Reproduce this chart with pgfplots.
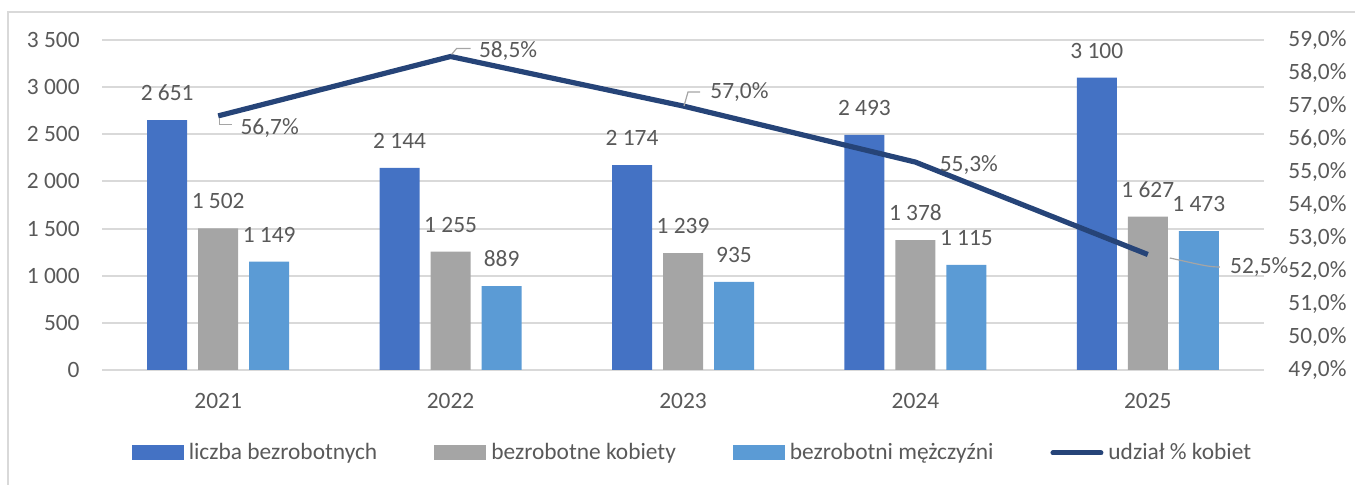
\documentclass[border=0pt]{standalone}
\usepackage{pgfplots}
\pgfplotsset{compat=1.18}
\usepackage{fontspec}
\setmainfont{Carlito}
\definecolor{c1}{HTML}{4472C4}
\definecolor{c2}{HTML}{A5A5A5}
\definecolor{c3}{HTML}{5B9BD5}
\definecolor{cl}{HTML}{264478}
\definecolor{txt}{HTML}{595959}
\definecolor{grd}{HTML}{D9D9D9}
\newcommand{\fs}{\fontsize{11.7}{14}\selectfont}
\begin{document}
\begin{tikzpicture}[font=\fs]
\useasboundingbox (0,0) rectangle (677.5pt,242.5pt);
\draw[grd, line width=1pt] (4pt,0) -- (4pt,236.5pt) -- (677.5pt,236.5pt);
\begin{axis}[
  at={(51pt,57.5pt)}, anchor=south west,
  scale only axis, width=581pt, height=165pt,
  ybar=5.5pt, bar width=20pt,
  xmin=-0.5, xmax=4.5, ymin=0, ymax=3500,
  xtick={0,1,2,3,4}, xticklabels={2021,2022,2023,2024,2025},
  ytick={0,500,...,3500},
  ymajorgrids, grid style={grd, line width=1pt},
  axis line style={draw=none},
  major tick length=0pt,
  tick label style={txt, font=\fs},
  /pgf/number format/assume math mode=true,
  /pgf/number format/1000 sep={\ },
  yticklabel style={inner sep=0pt, xshift=-11pt},
  xticklabel style={inner sep=0pt, yshift=-11.5pt},
  nodes near coords,
  nodes near coords style={txt, inner sep=0pt, anchor=south, yshift=9.5pt, font=\fs},
  clip=false,
  legend style={at={(0.5073,-0.2515)}, anchor=center, draw=none, fill=none,
    font=\fs, text=txt,
    /tikz/every even column/.append style={column sep=28.5pt},
    /tikz/every odd column/.append style={column sep=2.5pt},
    nodes={inner sep=0pt}},
  legend columns=4,
]
\addplot[fill=c1, draw=none, legend image code/.code={\fill[c1] (0pt,-3.75pt) rectangle (26pt,3.75pt);}]
  coordinates {(0,2651)(1,2144)(2,2174)(3,2493)(4,3100)};
\addlegendentry{liczba bezrobotnych}
\addplot[fill=c2, draw=none, legend image code/.code={\fill[c2] (0pt,-3.75pt) rectangle (26pt,3.75pt);}]
  coordinates {(0,1502)(1,1255)(2,1239)(3,1378)(4,1627)};
\addlegendentry{bezrobotne kobiety}
\addplot[fill=c3, draw=none, legend image code/.code={\fill[c3] (0pt,-3.75pt) rectangle (26pt,3.75pt);}]
  coordinates {(0,1149)(1,889)(2,935)(3,1115)(4,1473)};
\addlegendentry{bezrobotni mężczyźni}
\addlegendimage{legend image code/.code={\draw[cl, line width=2.5pt, line cap=round] (1pt,0pt) -- (25pt,0pt);}}
\addlegendentry{udział \% kobiet}
\end{axis}
\begin{axis}[
  at={(51pt,57.5pt)}, anchor=south west,
  scale only axis, width=581pt, height=165pt,
  xmin=-0.5, xmax=4.5, ymin=49, ymax=59,
  ytick={49,50,51,52,53,54,55,56,57,58,59},
  axis x line=none, axis y line*=right,
  axis line style={draw=none}, major tick length=0pt,
  tick label style={txt, font=\fs},
  /pgf/number format/assume math mode=true,
  yticklabel style={inner sep=0pt, xshift=12pt, anchor=west},
  yticklabel={\pgfmathprintnumber[fixed,fixed zerofill,precision=1,use comma]{\tick}\%},
  clip=false,
]
\addplot[cl, line width=2.6pt, mark=none] coordinates {(0,56.7)(1,58.5)(2,57.0)(3,55.3)(4,52.5)};
\begin{scope}[every node/.style={txt, anchor=west, inner sep=0pt, font=\fs}]
\draw[c2, line width=0.6pt] ([shift={(0.5pt,-1pt)}]axis cs:0,56.7) -- ([shift={(0.5pt,-4.5pt)}]axis cs:0,56.7) -- ([shift={(7pt,-4.5pt)}]axis cs:0,56.7);
\node at ([shift={(11pt,-6pt)}]axis cs:0,56.7) {56,7\%};
\draw[c2, line width=0.6pt] ([shift={(0.5pt,1pt)}]axis cs:1,58.5) -- ([shift={(3pt,4pt)}]axis cs:1,58.5) -- ([shift={(10pt,4pt)}]axis cs:1,58.5);
\node at ([shift={(14pt,2.5pt)}]axis cs:1,58.5) {58,5\%};
\draw[c2, line width=0.6pt] ([shift={(0.5pt,0pt)}]axis cs:2,57.0) -- ([shift={(2.5pt,7pt)}]axis cs:2,57.0) -- ([shift={(8.5pt,7pt)}]axis cs:2,57.0);
\node at ([shift={(13.5pt,7pt)}]axis cs:2,57.0) {57,0\%};
\node at ([shift={(12pt,-1.5pt)}]axis cs:3,55.3) {55,3\%};
\draw[c2, line width=0.6pt] ([shift={(11pt,-1.75pt)}]axis cs:4,52.5) .. controls ([shift={(26pt,-5pt)}]axis cs:4,52.5) and ([shift={(30pt,-6.25pt)}]axis cs:4,52.5) .. ([shift={(36pt,-6.25pt)}]axis cs:4,52.5);
\node at ([shift={(41pt,-6.25pt)}]axis cs:4,52.5) {52,5\%};
\end{scope}
\end{axis}
\end{tikzpicture}
\end{document}
